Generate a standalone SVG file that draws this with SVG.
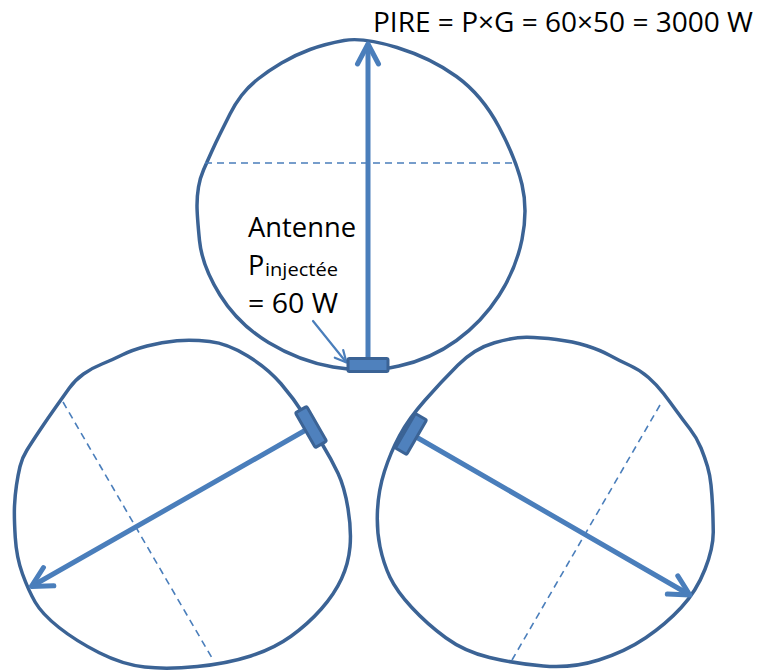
<svg xmlns="http://www.w3.org/2000/svg" width="758" height="671" viewBox="0 0 758 671">
<style>
.blob{fill:none;stroke:#3b6395;stroke-width:3.5;stroke-linejoin:round}
.dash{fill:none;stroke:#4a7ebb;stroke-width:1.6;stroke-dasharray:7 5}
.ant{fill:#4f81bd;stroke:#3b6395;stroke-width:3}
.ray{fill:none;stroke:#4a7ebb;stroke-width:5;stroke-linecap:round;stroke-linejoin:round}
.thin{fill:none;stroke:#4a7ebb;stroke-width:2.2;stroke-linecap:round;stroke-linejoin:round}
.t{font-family:"Open Sans","Liberation Sans",sans-serif;fill:#000}
</style>
<rect width="758" height="671" fill="#fff"/>
<g id="lobe-top">
<path class="blob" d="M344,40.5 Q363,37 397,47.5 Q431,58 456.5,76.5 Q482,95 499,127 Q516,159 522,184.5 Q528,210 522,239.5 Q516,269 499,295.5 Q482,322 456.5,340.5 Q431,359 399,366 Q367,373 333,367 Q299,361 268.5,342.5 Q238,324 220,295 Q202,266 199.5,240.5 Q197,215 197,205.5 Q197,196 198.5,187 Q200,178 203.5,170 Q207,162 211.5,152 Q216,142 220.5,133 Q225,124 230,114 Q235,104 241.5,95.5 Q248,87 258,79 Q268,71 281.5,63 Q295,55 310,49.5 Q325,44 344,40.5 Z"/>
<line class="dash" x1="205" y1="163" x2="513" y2="163"/>
</g>
<g id="lobe-left">
<path class="blob" d="M177,340.75 Q192,339.5 209.75,341.5 Q227.5,343.5 247.75,356 Q268,368.5 281,383.75 Q294,399 303.5,414 Q313,429 322.25,444.25 Q331.5,459.5 338,473.25 Q344.5,487 348,508.5 Q351.5,530 350,546.75 Q348.5,563.5 341.5,578.75 Q334.5,594 321.25,609 Q308,624 291,636.25 Q274,648.5 250.75,656 Q227.5,663.5 197.25,666.5 Q167,669.5 144.75,667 Q122.5,664.5 99.25,652.75 Q76,641 59,627.5 Q42,614 35.25,602.25 Q28.5,590.5 22.5,574 Q16.5,557.5 15.25,537.25 Q14,517 14.5,506 Q15,495 16.5,485 Q18,475 20,466.5 Q22,458 27,450 Q32,442 40,430 Q48,418 55.5,407.5 Q63,397 69,388.5 Q75,380 83.5,374 Q92,368 102,364 Q112,360 122,355 Q132,350 147,346 Q162,342 177,340.75 Z"/>
<line class="dash" x1="63" y1="402" x2="212" y2="658"/>
</g>
<g id="lobe-right">
<path class="blob" d="M494.5,342.75 Q514.5,337 527.25,337.25 Q540,337.5 556.5,339.5 Q573,341.5 586.5,345.75 Q600,350 610,355.5 Q620,361 630,365.5 Q640,370 648.5,377.5 Q657,385 663.5,393.5 Q670,402 676.5,411 Q683,420 690,429 Q697,438 701,448 Q705,458 707.5,466.5 Q710,475 711,485 Q712,495 712.5,505 Q713,515 713.25,531.25 Q713.5,547.5 705,569.25 Q696.5,591 681.25,607.5 Q666,624 645.75,637.75 Q625.5,651.5 598.75,660 Q572,668.5 543.25,666 Q514.5,663.5 489.5,657.5 Q464.5,651.5 445.75,637.75 Q427,624 411.75,607.5 Q396.5,591 390,577.25 Q383.5,563.5 380,546.75 Q376.5,530 377.5,510 Q378.5,490 384.5,471.25 Q390.5,452.5 399.5,435.75 Q408.5,419 424.75,400.5 Q441,382 457.75,365.25 Q474.5,348.5 494.5,342.75 Z"/>
<line class="dash" x1="660" y1="405" x2="512" y2="660"/>
</g>
<g id="connectors">
<g transform="translate(368,365)">
<line class="ray" x1="0" y1="-7" x2="0" y2="-320"/>
<path class="ray" d="M-10.5,-301 L0,-321 L10.5,-301"/>
</g>
<g transform="translate(311,427) rotate(240.3)">
<line class="ray" x1="0" y1="-7" x2="0" y2="-321"/>
<path class="ray" d="M-10.5,-302 L0,-322 L10.5,-302"/>
</g>
<g transform="translate(411,434) rotate(120)">
<line class="ray" x1="0" y1="-7" x2="0" y2="-321"/>
<path class="ray" d="M-10.5,-302 L0,-322 L10.5,-302"/>
</g>
<line class="thin" x1="313" y1="321" x2="346" y2="362"/>
<path class="thin" d="M343.2,350.1 L346.5,362.5 L334.8,357.7"/>
</g>
<g id="antenna-top"><rect class="ant" x="348" y="358.5" width="40" height="13" rx="1.5"/></g>
<g id="antenna-left"><rect class="ant" x="-20" y="-6.5" width="40" height="13" rx="1.5" transform="translate(311,427) rotate(240.3)"/></g>
<g id="antenna-right"><rect class="ant" x="-20" y="-6.5" width="40" height="13" rx="1.5" transform="translate(411,434) rotate(120)"/></g>
<g id="labels">
<text class="t" x="373" y="32" font-size="27" textLength="380" lengthAdjust="spacingAndGlyphs">PIRE = P×G = 60×50 = 3000 W</text>
<text class="t" x="248" y="237" font-size="27" textLength="108" lengthAdjust="spacingAndGlyphs">Antenne</text>
<text class="t" x="248" y="275" font-size="27">P</text>
<text class="t" x="265" y="276" font-size="19" textLength="73" lengthAdjust="spacingAndGlyphs">injectée</text>
<text class="t" x="248" y="313" font-size="27" textLength="90" lengthAdjust="spacingAndGlyphs">= 60 W</text>
</g>
</svg>
